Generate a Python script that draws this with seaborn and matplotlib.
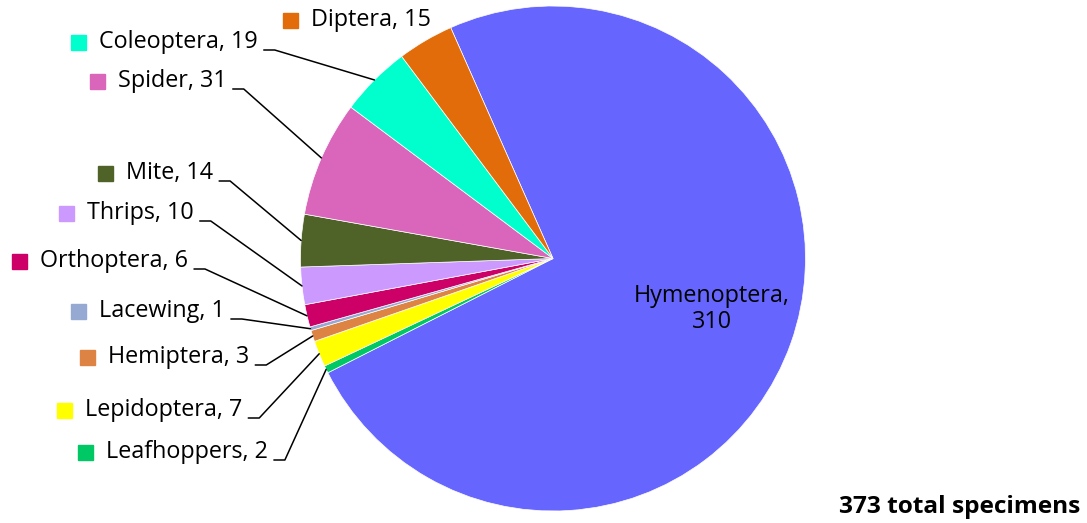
import matplotlib
matplotlib.use("Agg")
import matplotlib.pyplot as plt
from matplotlib.patches import Rectangle
import seaborn as sns
import numpy as np

# data, clockwise from the big slice
orders = ["Hymenoptera", "Leafhoppers", "Lepidoptera", "Hemiptera", "Lacewing",
          "Orthoptera", "Thrips", "Mite", "Spider", "Coleoptera", "Diptera"]
counts = [310, 2, 7, 3, 1, 6, 10, 14, 31, 19, 15]
colours = ["#6666FF", "#00C864", "#FFFF00", "#DD8444", "#95A9D2",
           "#CC0066", "#CC99FF", "#4F6228", "#D966BB", "#00FFCC", "#E36C0A"]
total_text = "373 total specimens"

# layout in image pixels (x from left, y from top): text left edge, text centre
label_pos = {
    "Diptera": (311, 20), "Coleoptera": (99, 42), "Spider": (118, 81),
    "Mite": (126, 173), "Thrips": (87, 213), "Orthoptera": (40, 261),
    "Lacewing": (99, 311), "Hemiptera": (108, 357), "Lepidoptera": (85, 410),
    "Leafhoppers": (106, 452),
}
W, H = 1087, 523
cx, cy, r = 553, H - 258.5, 252.5
fs = 16.8

sns.set_theme(style="white")
plt.rcParams['font.family'] = ['Open Sans', 'DejaVu Sans']

fig = plt.figure(figsize=(W / 100, H / 100), dpi=100)
ax = fig.add_axes([0, 0, 1, 1])
wedges, _ = ax.pie(counts, colors=colours, startangle=113.9, counterclock=False,
                   center=(cx, cy), radius=r,
                   wedgeprops=dict(edgecolor='white', linewidth=0.5))
ax.set_xlim(0, W)
ax.set_ylim(0, H)
ax.set_aspect('auto')
ax.axis('off')

ax.text(712, H - 309, f"{orders[0]},\n{counts[0]}", ha='center', va='center',
        multialignment='center', fontsize=fs, color='black', linespacing=1.15)

fig.canvas.draw()
renderer = fig.canvas.get_renderer()
for w, name, n, col in zip(wedges[1:], orders[1:], counts[1:], colours[1:]):
    tx, ty = label_pos[name]
    t = ax.text(tx, H - ty, f"{name}, {n}", ha='left', va='center', fontsize=fs, color='black')
    ax.add_patch(Rectangle((tx - 28, H - ty - 8), 15, 15, color=col))
    if name == "Diptera":
        continue
    bb = t.get_window_extent(renderer).transformed(ax.transData.inverted())
    x0 = bb.x1 + 6
    ly = H - ty - 8
    ang = np.deg2rad((w.theta1 + w.theta2) / 2)
    ex, ey = cx + r * np.cos(ang), cy + r * np.sin(ang)
    ax.plot([x0, x0 + 11, ex], [ly, ly, ey], color='black', lw=1.1)

ax.text(1080, H - 507, total_text, ha='right', va='center', fontsize=17.6,
        fontweight='bold', color='black')

fig.savefig("out.png", dpi=100)
